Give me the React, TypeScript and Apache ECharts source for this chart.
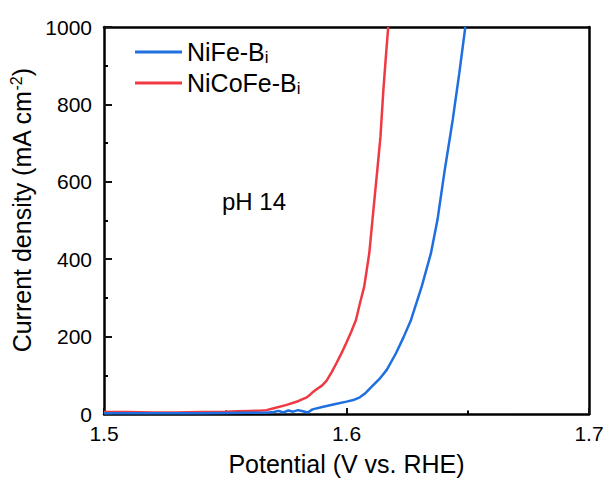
import React, { useEffect, useRef } from "react";
import * as echarts from "echarts";

const seriesNames = ["NiFe-B{sub|i}", "NiCoFe-B{sub|i}"];
const legendKeys = ["NiFe-Bi", "NiCoFe-Bi"];

const nifePotential = [1.5, 1.52, 1.54, 1.56, 1.567, 1.57, 1.572, 1.574, 1.576, 1.578, 1.58, 1.582, 1.584, 1.586, 1.59, 1.595, 1.6, 1.6028, 1.6055, 1.608, 1.6104, 1.6135, 1.6166, 1.6204, 1.6235, 1.6266, 1.631, 1.6348, 1.6375, 1.6405, 1.6438, 1.6465, 1.649];
const nifeCurrent = [2, 2, 2, 3, 3, 5, 8, 4, 9, 6, 10, 7, 4, 12, 18, 25, 32, 36, 43, 55, 71, 90, 114, 157, 198, 243, 329, 415, 501, 630, 760, 880, 1000];

const nicofePotential = [1.5, 1.51, 1.52, 1.53, 1.54, 1.55, 1.555, 1.56, 1.565, 1.567, 1.57, 1.575, 1.58, 1.5836, 1.585, 1.586, 1.5877, 1.59, 1.5918, 1.5939, 1.596, 1.598, 1.6, 1.602, 1.6039, 1.6055, 1.6073, 1.6094, 1.6107, 1.6127, 1.614, 1.6152, 1.6162, 1.6172];
const nicofeCurrent = [5, 5, 4, 4, 5, 6, 7, 8, 9, 10, 15, 23, 33, 43, 50, 56, 64, 74, 86, 108, 133, 158, 185, 213, 243, 285, 329, 416, 501, 630, 716, 837, 920, 1000];

const xTicks = [1.5, 1.6, 1.7];
const yTicks = [0, 200, 400, 600, 800, 1000];

const FONT = "Arial, 'Liberation Sans', Helvetica, sans-serif";

export default function App() {
  const ref = useRef<HTMLDivElement>(null);
  useEffect(() => {
    if (!ref.current) return;
    const chart = echarts.init(ref.current, null, { renderer: "svg" });
    const zip = (a: number[], b: number[]) => a.map((v, i) => [v, b[i]]);
    const xMin = xTicks[0];
    const xMax = xTicks[xTicks.length - 1];
    const yMin = yTicks[0];
    const yMax = yTicks[yTicks.length - 1];
    const off = { show: false };
    const tickAxis = (position: string, min: number, max: number, interval: number, length: number, color: string) => ({
      type: "value",
      position,
      min,
      max,
      interval,
      axisLine: { show: false, onZero: false },
      axisTick: { show: true, inside: true, length, lineStyle: { color, width: 2 } },
      axisLabel: off,
      splitLine: off,
    });
    chart.setOption({
      animation: false,
      backgroundColor: "#ffffff",
      grid: { left: 104, right: 20, top: 27, bottom: 70 },
      legend: {
        orient: "vertical",
        left: 130,
        top: 33,
        icon: "rect",
        itemWidth: 47,
        itemHeight: 3,
        itemGap: 3,
        data: legendKeys,
        formatter: (name: string) => seriesNames[legendKeys.indexOf(name)],
        textStyle: {
          fontFamily: FONT,
          fontSize: 25,
          color: "#000",
          lineHeight: 28,
          rich: {
            sub: { fontFamily: FONT, fontSize: 17, color: "#000", verticalAlign: "bottom", padding: [11, 0, 0, 0], lineHeight: 28 },
          },
        },
      },
      graphic: [
        {
          type: "text",
          left: 222,
          top: 189,
          style: { text: "pH 14", font: `24px ${FONT}`, fill: "#000" },
        },
      ],
      xAxis: [
        {
          type: "value",
          position: "bottom",
          min: xMin,
          max: xMax,
          interval: 0.1,
          name: "Potential (V vs. RHE)",
          nameLocation: "middle",
          nameGap: 37,
          nameTextStyle: { fontFamily: FONT, fontSize: 25, color: "#000" },
          axisLine: { show: true, onZero: false, lineStyle: { color: "#000", width: 2.5 } },
          axisTick: off,
          splitLine: off,
          axisLabel: {
            fontFamily: FONT,
            fontSize: 21,
            color: "#000",
            margin: 9,
            formatter: (v: number) => v.toFixed(1),
          },
        },
        tickAxis("bottom", xMin, xMax, 0.05, 3.5, "#000"),
        tickAxis("bottom", xMin, xMax, 0.1, 6, "#111"),
        {
          type: "value",
          position: "top",
          min: xMin,
          max: xMax,
          axisLine: { show: true, onZero: false, lineStyle: { color: "#000", width: 2.5 } },
          axisTick: off,
          axisLabel: off,
          splitLine: off,
        },
      ],
      yAxis: [
        {
          type: "value",
          position: "left",
          min: yMin,
          max: yMax,
          interval: 200,
          name: "Current density (mA cm{sup|-2})",
          nameLocation: "middle",
          nameGap: 58,
          nameTextStyle: {
            fontFamily: FONT,
            fontSize: 25,
            color: "#000",
            padding: [0, 0, 0, 20],
            rich: {
              sup: { fontFamily: FONT, fontSize: 16, color: "#000", verticalAlign: "top", padding: [0, 0, 10, 0] },
            },
          },
          axisLine: { show: true, onZero: false, lineStyle: { color: "#000", width: 2.5 } },
          axisTick: off,
          splitLine: off,
          axisLabel: { fontFamily: FONT, fontSize: 21, color: "#000", margin: 12, formatter: (v: number) => String(v) },
        },
        tickAxis("left", yMin, yMax, 100, 4, "#000"),
        tickAxis("left", yMin, yMax, 200, 8, "#111"),
        {
          type: "value",
          position: "right",
          min: yMin,
          max: yMax,
          axisLine: { show: true, onZero: false, lineStyle: { color: "#000", width: 2.5 } },
          axisTick: off,
          axisLabel: off,
          splitLine: off,
        },
      ],
      series: [
        {
          name: legendKeys[0],
          type: "line",
          xAxisIndex: 0,
          yAxisIndex: 0,
          data: zip(nifePotential, nifeCurrent),
          showSymbol: false,
          symbol: "none",
          lineStyle: { color: "#1f6fe0", width: 2.5 },
          itemStyle: { color: "#1f6fe0" },
          z: 3,
        },
        {
          name: legendKeys[1],
          type: "line",
          xAxisIndex: 0,
          yAxisIndex: 0,
          data: zip(nicofePotential, nicofeCurrent),
          showSymbol: false,
          symbol: "none",
          lineStyle: { color: "#ef3a43", width: 2.5 },
          itemStyle: { color: "#ef3a43" },
          z: 2,
        },
      ],
    });
    return () => chart.dispose();
  }, []);
  return <div ref={ref} style={{ width: 609, height: 484, position: "absolute", left: 0, top: 0 }} />;
}
